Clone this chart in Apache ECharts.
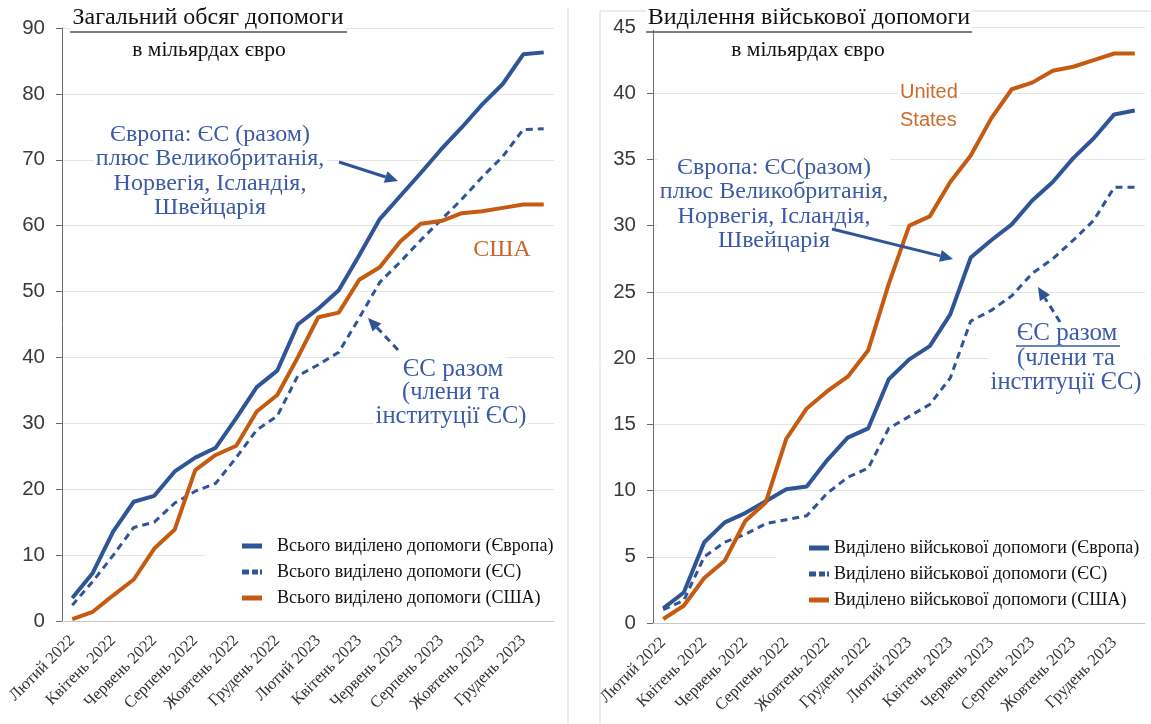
<!DOCTYPE html>
<html>
<head>
<meta charset="utf-8">
<script src="https://cdn.jsdelivr.net/npm/echarts@6/dist/echarts.min.js"></script>
<style>
html, body { margin: 0; padding: 0; background: #fff; }
#main { width: 1151px; height: 724px; }
</style>
</head>
<body>
<div id="main"></div>
<script>
// місяці: лютий 2022 - січень 2024
var months = ['Лютий 2022', 'Березень 2022', 'Квітень 2022', 'Травень 2022', 'Червень 2022', 'Липень 2022',
    'Серпень 2022', 'Вересень 2022', 'Жовтень 2022', 'Листопад 2022', 'Грудень 2022', 'Січень 2023',
    'Лютий 2023', 'Березень 2023', 'Квітень 2023', 'Травень 2023', 'Червень 2023', 'Липень 2023',
    'Серпень 2023', 'Вересень 2023', 'Жовтень 2023', 'Листопад 2023', 'Грудень 2023', 'Січень 2024'];

// загальний обсяг допомоги, млрд євро
var totalEurope = [3.5, 7.3, 13.6, 18.1, 19.0, 22.7, 24.8, 26.3, 30.8, 35.5, 38.0, 45.0,
    47.4, 50.2, 55.5, 61.0, 64.5, 68.0, 71.6, 74.9, 78.4, 81.5, 86.0, 86.3];
var totalEU = [2.4, 6.0, 10.0, 14.2, 15.0, 17.9, 19.7, 20.9, 24.8, 29.0, 31.1, 37.2,
    38.9, 40.8, 46.0, 51.4, 54.5, 57.8, 60.9, 64.0, 67.4, 70.5, 74.6, 74.7];
var totalUSA = [0.3, 1.4, 3.9, 6.3, 11.0, 13.9, 22.9, 25.2, 26.6, 31.8, 34.3, 40.0,
    46.1, 46.8, 51.8, 53.7, 57.6, 60.3, 60.7, 61.9, 62.2, 62.7, 63.2, 63.2];

// військова допомога, млрд євро
var milEurope = [1.1, 2.3, 6.1, 7.6, 8.3, 9.2, 10.1, 10.3, 12.3, 14.0, 14.7, 18.4,
    19.9, 20.9, 23.3, 27.6, 28.9, 30.1, 31.9, 33.3, 35.1, 36.6, 38.4, 38.7];
var milEU = [1.0, 1.7, 5.0, 6.1, 6.7, 7.5, 7.8, 8.1, 9.8, 11.0, 11.7, 14.7,
    15.6, 16.5, 18.5, 22.8, 23.6, 24.7, 26.4, 27.5, 28.9, 30.4, 32.9, 32.9];
var milUSA = [0.3, 1.3, 3.4, 4.7, 7.7, 9.1, 13.9, 16.2, 17.5, 18.6, 20.6, 25.6,
    30.0, 30.7, 33.3, 35.3, 38.1, 40.3, 40.8, 41.7, 42.0, 42.5, 43.0, 43.0];

var blue = '#2f5597';
var blueText = '#3b5ba6';
var orange = '#c55a11';
var serif = '"Liberation Serif", "DejaVu Serif", serif';
var sans = '"Liberation Sans", Arial, sans-serif';

var namesTotal = ['Всього виділено допомоги (Європа)', 'Всього виділено допомоги (ЄС)', 'Всього виділено допомоги (США)'];
var namesMil = ['Виділено військової допомоги (Європа)', 'Виділено військової допомоги (ЄС)', 'Виділено військової допомоги (США)'];

// значки легенди: суцільна та пунктирна лінія
var iconSolid = 'path://M0,0h20v5h-20z';
var iconDash = 'path://M0,0h7v5h-7z M10,0h6v5h-6z M18,0h2v5h-2z';

function legendData(names) {
    return [
        { name: names[0], icon: iconSolid },
        { name: names[1], icon: iconDash },
        { name: names[2], icon: iconSolid }
    ];
}

function xAxisFor(idx) {
    return {
        type: 'category',
        gridIndex: idx,
        data: months,
        boundaryGap: true,
        axisLine: { lineStyle: { color: '#c8c8c8' } },
        axisTick: { show: false },
        axisLabel: { interval: 1, rotate: 45, fontFamily: serif, fontSize: 16.5, color: '#333', margin: 17 }
    };
}
function yAxisFor(idx, max, step) {
    return {
        type: 'value',
        gridIndex: idx,
        min: 0, max: max, interval: step,
        axisLine: { show: true, lineStyle: { color: '#6b6b6b' } },
        axisTick: { show: true, length: 6, lineStyle: { color: '#6b6b6b' } },
        splitLine: { lineStyle: { color: '#e4e4e4' } },
        axisLabel: { fontFamily: sans, fontSize: 20.5, color: '#3a3a3a', margin: 17 }
    };
}
function lineSeries(name, data, idx, color, dashed) {
    return {
        name: name,
        type: 'line',
        xAxisIndex: idx,
        yAxisIndex: idx,
        data: data,
        symbol: 'none',
        color: color,
        lineStyle: { color: color, width: dashed ? 3 : 4, type: dashed ? [7, 5] : 'solid' }
    };
}

// стрілка-підказка
function arrow(x1, y1, x2, y2, dashed) {
    var a = Math.atan2(y2 - y1, x2 - x1), L = 13, W = 6;
    var bx = x2 - L * Math.cos(a), by = y2 - L * Math.sin(a);
    return [
        { type: 'line', z: 100, shape: { x1: x1, y1: y1, x2: bx, y2: by },
          style: { stroke: blue, lineWidth: 3, lineDash: dashed ? [7, 5] : null } },
        { type: 'polygon', z: 100, shape: { points: [[x2, y2],
            [bx - W * Math.sin(a), by + W * Math.cos(a)], [bx + W * Math.sin(a), by - W * Math.cos(a)]] },
          style: { fill: blue } }
    ];
}
function label(x, y, text, font, color, align, lh) {
    return { type: 'text', z: 100, x: x, y: y,
        style: { text: text, font: font, fill: color, align: align || 'center', verticalAlign: 'middle',
                 lineHeight: lh || null, backgroundColor: '#fff', padding: [0, 2] } };
}
function hline(x1, x2, y, color, w) {
    return { type: 'line', z: 100, shape: { x1: x1, y1: y, x2: x2, y2: y }, style: { stroke: color, lineWidth: w } };
}
function vline(x, y1, y2, color) {
    return { type: 'line', z: 1, shape: { x1: x, y1: y1, x2: x, y2: y2 }, style: { stroke: color, lineWidth: 1 } };
}

var graphics = [
    vline(568, 8, 724, '#d9d9d9'),
    vline(600, 11, 724, '#d9d9d9'),
    { type: 'line', z: 1, shape: { x1: 600, y1: 11, x2: 1151, y2: 11 }, style: { stroke: '#d9d9d9', lineWidth: 1 } },
    // заголовки
    label(208, 18, 'Загальний обсяг допомоги', '24px ' + serif, '#111'),
    hline(70, 347, 32, '#555', 1.5),
    label(209, 50, 'в мільярдах євро', '21.5px ' + serif, '#111'),
    label(809, 18, 'Виділення військової допомоги', '24px ' + serif, '#111'),
    hline(646, 972, 32, '#555', 1.5),
    label(808, 50, 'в мільярдах євро', '21.5px ' + serif, '#111'),
    // ліва панель
    label(210, 171, 'Європа: ЄС (разом)\nплюс Великобританія,\nНорвегія, Ісландія,\nШвейцарія', '24px ' + serif, blueText, 'center', 24.5),
    label(502, 250, 'США', '24px ' + serif, '#c8662c'),
    label(453, 369, 'ЄС разом', '25px ' + serif, blueText),
    hline(400, 506, 382, blueText, 1.5),
    label(451, 405, '(члени та\nінституції ЄС)', '24.5px ' + serif, blueText, 'center', 24),
    // права панель
    label(774, 204, 'Європа: ЄС(разом)\nплюс Великобританія,\nНорвегія, Ісландія,\nШвейцарія', '24px ' + serif, blueText, 'center', 24.5),
    label(898, 106, 'United\nStates', '20px ' + sans, '#cc6b2c', 'left', 28),
    label(1067, 333, 'ЄС разом', '25px ' + serif, blueText),
    hline(1016, 1120, 346, blueText, 1.5),
    label(1066, 371, '(члени та\nінституції ЄС)', '24.5px ' + serif, blueText, 'center', 24)
].concat(arrow(339, 162, 398, 181, false), arrow(398, 350, 368, 318, true),
         arrow(832, 229, 953, 259, false), arrow(1060, 322, 1038, 287, true));

var chart = echarts.init(document.getElementById('main'));

var option = {
    backgroundColor: '#fff',
    animation: false,
    grid: [
        { left: 62, top: 28, width: 492, height: 593 },
        { left: 653, top: 27, width: 492, height: 596 }
    ],
    xAxis: [xAxisFor(0), xAxisFor(1)],
    yAxis: [yAxisFor(0, 90, 10), yAxisFor(1, 45, 5)],
    legend: [
        { data: legendData(namesTotal), orient: 'vertical', left: 205, top: 533, padding: [4, 4, 4, 37],
          itemWidth: 20, itemHeight: 5, itemGap: 8, backgroundColor: '#fff',
          textStyle: { fontFamily: serif, fontSize: 18, color: '#111', padding: [0, 0, 0, 10] } },
        { data: legendData(namesMil), orient: 'vertical', left: 776, top: 535, padding: [4, 4, 4, 33],
          itemWidth: 20, itemHeight: 5, itemGap: 8, backgroundColor: '#fff',
          textStyle: { fontFamily: serif, fontSize: 18, color: '#111' } }
    ],
    graphic: graphics,
    series: [
        lineSeries(namesTotal[0], totalEurope, 0, blue, false),
        lineSeries(namesTotal[1], totalEU, 0, blue, true),
        lineSeries(namesTotal[2], totalUSA, 0, orange, false),
        lineSeries(namesMil[0], milEurope, 1, blue, false),
        lineSeries(namesMil[1], milEU, 1, blue, true),
        lineSeries(namesMil[2], milUSA, 1, orange, false)
    ]
};

chart.setOption(option);
</script>
</body>
</html>
